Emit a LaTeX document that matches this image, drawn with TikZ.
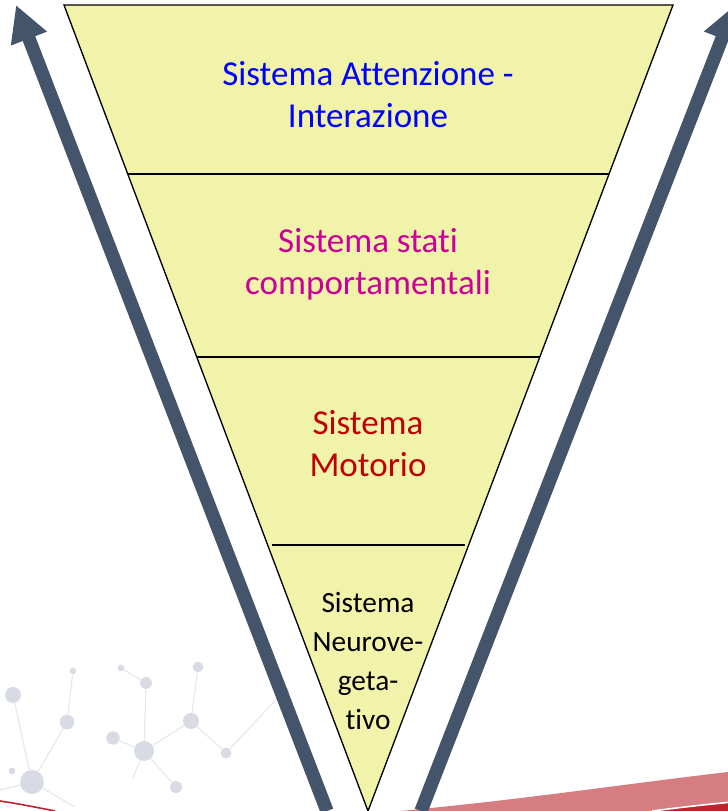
\documentclass[tikz,border=0pt]{standalone}
\usepackage{fontspec}
\setmainfont{Carlito}[Ligatures={NoCommon,NoContextual}]
\usetikzlibrary{arrows.meta,calc}

\definecolor{funnelfill}{RGB}{242,243,170}
\definecolor{arrowgray}{RGB}{68,84,106}
\definecolor{netdot}{RGB}{216,219,227}
\definecolor{netline}{RGB}{231,232,235}
\definecolor{swoopink}{RGB}{214,125,130}
\definecolor{swoodark}{RGB}{189,36,46}
\definecolor{attblue}{RGB}{0,0,255}
\definecolor{compmag}{RGB}{204,0,153}
\definecolor{motred}{RGB}{192,0,0}

\tikzset{
  netdotnode/.style={circle,fill=netdot,inner sep=0pt,minimum size=#1},
  netlink/.style={draw=netline,line width=0.9pt},
  bigarrow/.style={draw=arrowgray,line width=10pt,-{Triangle[length=27pt,width=27pt]}},
  divider/.style={draw=black,line width=1.5pt},
  bigtxt/.style={inner sep=0pt,align=center,font=\fontsize{26.25}{31.5}\selectfont},
  smalltxt/.style={inner sep=0pt,align=center,font=\fontsize{22}{29.2}\selectfont}
}

\begin{document}
\begin{tikzpicture}[x=0.75pt,y=0.75pt,yscale=-1,xscale=1]
\useasboundingbox (0,0) rectangle (728,811);

% background network
\node (na) at (13,695) [netdotnode=12pt] {};
\node (nb) at (67,722) [netdotnode=11pt] {};
\node (nc) at (32,782) [netdotnode=18pt] {};
\node (nd) at (12,771) [netdotnode=5pt] {};
\node (ne) at (121,668) [netdotnode=5pt] {};
\node (nf) at (146,683) [netdotnode=9pt] {};
\node (ng) at (113,738) [netdotnode=10pt] {};
\node (nh) at (144,751) [netdotnode=15pt] {};
\node (ni) at (198,667) [netdotnode=8pt] {};
\node (nj) at (191,721) [netdotnode=12pt] {};
\node (nk) at (226,753) [netdotnode=8pt] {};
\node (nl) at (283,692) [netdotnode=9pt] {};
\node (nm) at (176,787) [netdotnode=9pt] {};
\node (ns) at (73,671) [netdotnode=5pt] {};
\coordinate (ec1) at (0,790);
\coordinate (ec2) at (75,807);
\coordinate (eh) at (133,778);
\draw [netlink] (na) -- (nc);
\draw [netlink] (nb) -- (nc);
\draw [netlink] (nb) -- (ns);
\draw [netlink] (nc) -- (ec1);
\draw [netlink] (nc) -- (ec2);
\draw [netlink] (ne) -- (nf);
\draw [netlink] (nf) -- (nh);
\draw [netlink] (ng) -- (nh);
\draw [netlink] (nh) -- (nj);
\draw [netlink] (nj) -- (ni);
\draw [netlink] (nj) -- (nk);
\draw [netlink] (nk) -- (nl);
\draw [netlink] (nh) -- (eh);
\draw [netlink] (nh) -- (nm);

% red swoosh
\fill [swoopink] (400,811) .. controls (520,800) and (640,782) .. (728,772) -- (728,811) -- cycle;
\fill [swoodark] (655,811) .. controls (680,808) and (705,805) .. (728,803) -- (728,811) -- cycle;
\draw [white,line width=1.2pt] (652,811) .. controls (680,807.5) and (705,804.5) .. (728,802.5);
\draw [swoodark,line width=1.2pt] (0,801) .. controls (20,804) and (40,808) .. (55,811);

% arrows
\coordinate (lfoot) at (327,811);
\coordinate (ltip) at (16,5);
\coordinate (rfoot) at (421,811);
\coordinate (rtip) at (735,5);
\draw [bigarrow] (lfoot) -- (ltip);
\draw [bigarrow] (rfoot) -- (rtip);

% funnel
\coordinate (tl) at (64,5);
\coordinate (tr) at (673,5);
\coordinate (apex) at (368,811);
\draw [fill=funnelfill,line width=1pt,line join=miter] (tl) -- (tr) -- (apex) -- cycle;
\draw [divider] ($(tl)!0.2097!(apex)$) -- ($(tr)!0.2097!(apex)$);
\draw [divider] ($(tl)!0.4367!(apex)$) -- ($(tr)!0.4367!(apex)$);
\draw [divider] (272,545) -- (465,545);

% Text Node
\node (att) at (368,95) [bigtxt,text=attblue] {Sistema Attenzione -\\Interazione};
% Text Node
\node (comp) at (368,264) [bigtxt,text=compmag] {Sistema stati\\comportamentali};
% Text Node
\node (mot) at (368,444) [bigtxt,text=motred] {Sistema\\Motorio};
% Text Node
\node (neuro) at (368,661) [smalltxt,text=black] {Sistema\\Neurove-\\geta-\\tivo};

\end{tikzpicture}
\end{document}
